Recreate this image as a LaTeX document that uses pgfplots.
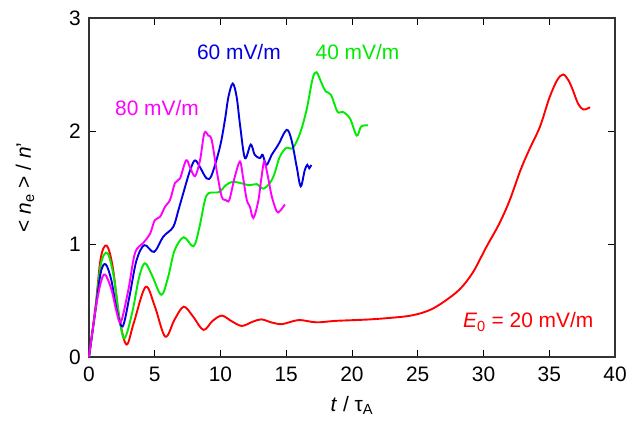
\documentclass[border=0pt]{standalone}
\usepackage{fontspec}
\setmainfont{Liberation Sans}
\usepackage{pgfplots}
\pgfplotsset{compat=1.18}
\definecolor{cred}{RGB}{255,0,0}
\definecolor{cgreen}{RGB}{0,235,0}
\definecolor{cblue}{RGB}{0,0,225}
\definecolor{cmag}{RGB}{255,0,255}
\begin{document}
\fontsize{21}{25}\selectfont
\begin{tikzpicture}
\begin{axis}[
  name=ax,
  scale only axis, width=526bp, height=339bp,
  xmin=0, xmax=40, ymin=0, ymax=3,
  xtick={0,5,...,40}, ytick={0,1,2,3},
  tick align=inside, major tick length=7bp,
  axis line style={line width=1.1bp, black!80},
  tick style={line width=0.9bp, black},
  /pgf/number format/assume math mode=true,
  tick label style={font=\fontsize{21}{25}\selectfont},
  xticklabel style={yshift=-3bp},
  yticklabel style={xshift=-1bp},
  label style={font=\fontsize{21}{25}\selectfont},
  xlabel={\textit{t} / τ\textsubscript{A}},
  ylabel={< \textit{n}\textsubscript{e} > / \textit{n}'},
  xlabel style={at={(axis description cs:0.5,-0.1416)}, anchor=center},
  ylabel style={at={(axis description cs:-0.1217,0.5)}, anchor=center},
  every axis plot/.append style={line width=1.9bp, smooth, tension=0.55},
  clip=false,
]
% E0 = 20 mV/m
\addplot[cred] coordinates {
(0,0) (0.5,0.45) (0.9,0.88) (1.35,0.985) (1.8,0.8) (2.3,0.35) (2.85,0.11) (3.4,0.3) (4.3,0.62) (5.0,0.45) (5.8,0.18) (6.5,0.33) (7.2,0.445) (7.9,0.36) (8.7,0.24) (9.4,0.32) (10.1,0.366) (10.8,0.32) (11.6,0.275) (12.4,0.31) (13.1,0.333) (13.9,0.305) (14.65,0.29) (15.3,0.31) (16.05,0.327) (17.3,0.307) (18.8,0.32) (21.4,0.333) (23.9,0.357) (25.0,0.38) (26.0,0.42) (27.0,0.49) (28.2,0.60) (29.2,0.75) (30.2,0.97) (31.2,1.18) (32.0,1.39) (32.8,1.65) (33.5,1.84) (34.3,2.04) (35.0,2.29) (35.6,2.45) (36.07,2.50) (36.5,2.44) (36.8,2.36) (37.2,2.24) (37.6,2.19) (38.1,2.21)
};
% 40 mV/m
\addplot[cgreen] coordinates {
(0,0) (0.5,0.43) (0.9,0.82) (1.4,0.92) (1.9,0.7) (2.3,0.35) (2.7,0.165) (3.3,0.4) (3.8,0.7) (4.25,0.83) (4.8,0.72) (5.5,0.55) (6.0,0.7) (6.5,0.94) (7.2,1.06) (7.95,0.98) (8.4,1.15) (8.8,1.38) (9.1,1.45) (9.9,1.46) (10.4,1.52) (10.9,1.55) (11.5,1.54) (12.2,1.52) (12.75,1.53) (13.25,1.49) (13.76,1.54) (14.1,1.62) (14.5,1.77) (15.0,1.85) (15.5,1.85) (16.05,1.98) (16.55,2.19) (17.0,2.46) (17.3,2.52) (17.7,2.42) (18.0,2.35) (18.4,2.32) (18.9,2.17) (19.3,2.17) (19.85,2.11) (20.36,1.96) (20.7,2.04) (21.2,2.05)
};
% 60 mV/m
\addplot[cblue] coordinates {
(0,0) (0.5,0.42) (0.9,0.75) (1.27,0.82) (1.7,0.68) (2.1,0.42) (2.56,0.27) (3.1,0.55) (3.6,0.85) (4.2,0.99) (4.95,0.93) (5.65,1.065) (6.4,1.15) (6.8,1.3) (7.17,1.45) (7.68,1.65) (8.06,1.74) (8.44,1.68) (8.95,1.58) (9.33,1.61) (9.96,1.86) (10.34,2.10) (10.6,2.3) (10.93,2.42) (11.23,2.30) (11.5,2.04) (11.86,1.76) (12.3,1.88) (12.6,1.79) (13.0,1.76) (13.2,1.79) (13.5,1.70) (13.9,1.79) (14.4,1.88) (15.03,2.01) (15.4,1.92) (15.8,1.68) (16.1,1.51) (16.4,1.65) (16.6,1.70) (16.75,1.67) (16.9,1.70)
};
% 80 mV/m
\addplot[cmag] coordinates {
(0,0) (0.5,0.42) (0.9,0.66) (1.22,0.73) (1.7,0.6) (2.1,0.4) (2.43,0.31) (3.0,0.6) (3.5,0.92) (4.13,1.01) (4.64,1.09) (5.0,1.21) (5.4,1.24) (5.78,1.33) (6.16,1.39) (6.54,1.54) (6.92,1.58) (7.38,1.74) (7.68,1.68) (8.06,1.60) (8.44,1.74) (8.77,1.98) (9.07,1.96) (9.33,1.92) (9.71,1.65) (10.09,1.42) (10.4,1.39) (10.67,1.39) (11.1,1.60) (11.48,1.73) (11.7,1.60) (12.0,1.39) (12.24,1.33) (12.5,1.23) (12.87,1.38) (13.13,1.60) (13.33,1.73) (13.6,1.60) (13.9,1.42) (14.27,1.29) (14.5,1.29) (14.9,1.35)
};
\node[cblue, anchor=base, inner sep=0pt] at (axis cs:11.4,2.63) {60 mV/m};
\node[cgreen, anchor=base, inner sep=0pt] at (axis cs:20.42,2.63) {40 mV/m};
\node[cmag, anchor=base, inner sep=0pt] at (axis cs:5.17,2.14) {80 mV/m};
\node[cred, anchor=base, inner sep=0pt] at (axis cs:33.4,0.257) {\textit{E}\textsubscript{0} = 20 mV/m};
\end{axis}
\pgfresetboundingbox
\path ([shift={(-89bp,-69bp)}]ax.south west) rectangle ([shift={(29bp,18bp)}]ax.north east);
\end{tikzpicture}
\end{document}
